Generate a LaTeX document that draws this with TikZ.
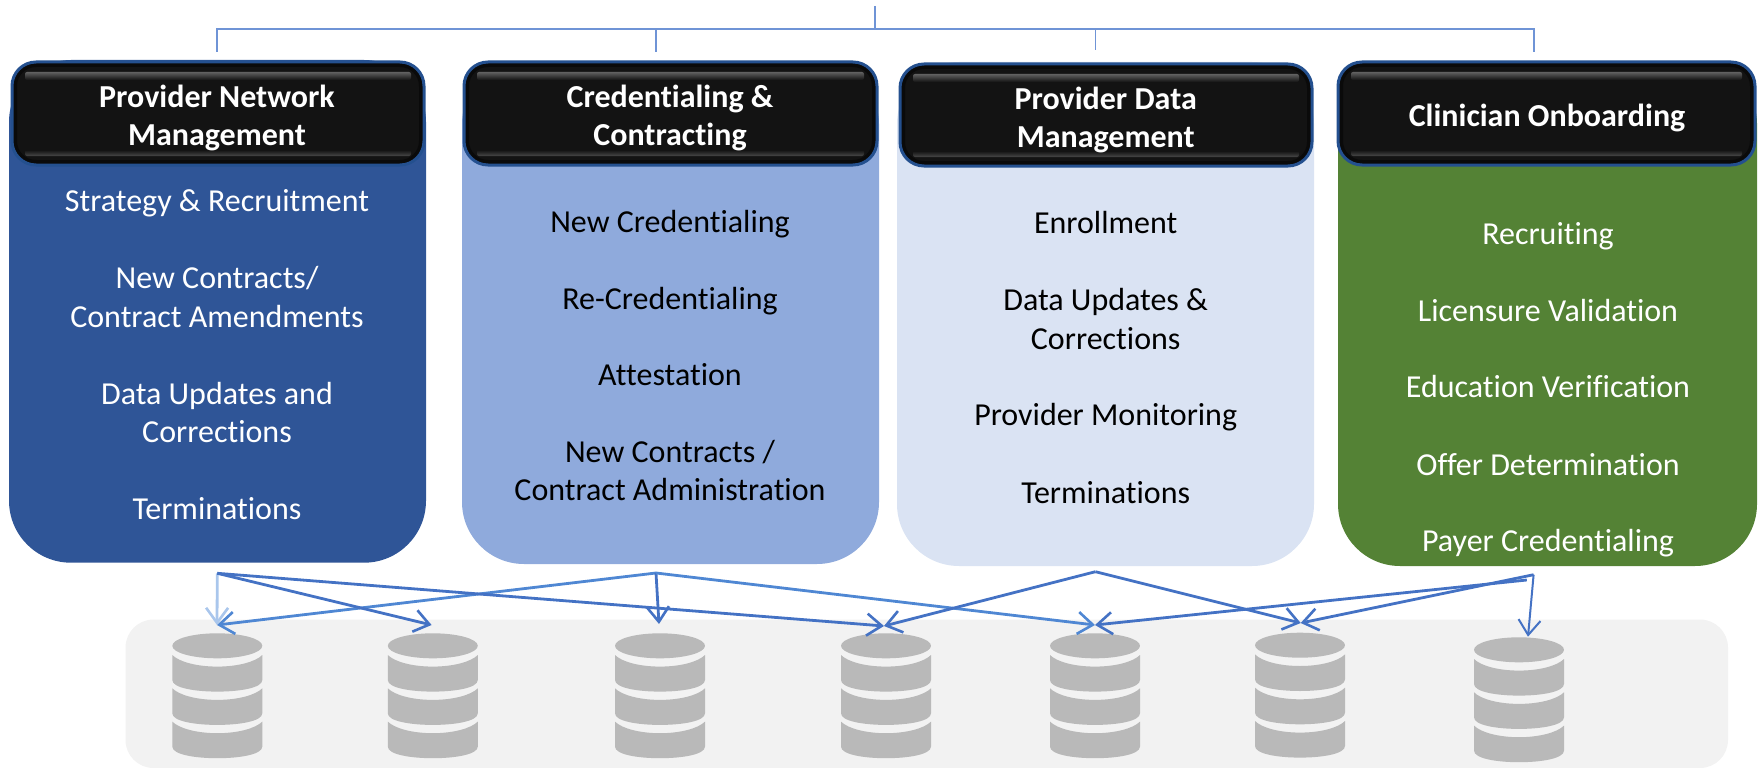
\documentclass[tikz,border=0pt]{standalone}
\usepackage{fontspec}
\setmainfont[Ligatures=CommonOff]{Carlito}
\usetikzlibrary{arrows.meta}
\definecolor{colA}{HTML}{2F5597}
\definecolor{colB}{HTML}{8FAADC}
\definecolor{colC}{HTML}{DAE3F3}
\definecolor{colD}{HTML}{548235}
\definecolor{linkblue}{HTML}{4472C4}
\definecolor{linkmid}{HTML}{4F87D3}
\definecolor{linklight}{HTML}{A9C6EC}
\definecolor{treeblue}{HTML}{6F94D6}
\definecolor{panel}{HTML}{F2F2F2}
\definecolor{cyl}{HTML}{B9B9B9}
\definecolor{rim}{HTML}{24508F}
\definecolor{hdrfill}{HTML}{131313}
\definecolor{hdredge}{HTML}{0A0A0A}
\tikzset{
  x=1pt,y=-1pt,
  item/.style={inner sep=0pt,align=center,font=\fontsize{32}{38.5}\selectfont},
  itemw/.style={item,text=white},
  itemk/.style={item,text=black},
  head/.style={inner sep=0pt,align=center,text=white,font=\fontsize{32}{38.5}\selectfont\bfseries},
  body/.style={rounded corners=62pt},
  hdr/.style={rounded corners=24pt,fill=hdredge,draw=rim,line width=3pt},
  hdrin/.style={rounded corners=20pt,fill=hdrfill,draw=hdredge,line width=2pt},
  tree/.style={draw=treeblue,line width=1.6pt},
  link/.style={draw=linkblue,line width=2.8pt,-{Straight Barb[length=15pt,width=22pt,line width=2.6pt]}},
  linkm/.style={link,draw=linkmid},
  linkl/.style={link,draw=linklight},
  linkthin/.style={draw=linkblue,line width=2pt,-{Straight Barb[length=15pt,width=22pt,line width=2pt]}},
  pics/dbcyl/.style={code={
    \fill[cyl] (0,0) ellipse [x radius=45,y radius=-12.5];
    \foreach \t in {9.2,42.5,75.8}{
      \fill[cyl] (-45,\t) -- (-45,\t+25) .. controls (-45,\t+33) and (-22,\t+36.6) .. (0,\t+36.6)
        .. controls (22,\t+36.6) and (45,\t+33) .. (45,\t+25) -- (45,\t)
        .. controls (38,\t+7) and (20,\t+11.6) .. (0,\t+11.6)
        .. controls (-20,\t+11.6) and (-38,\t+7) .. (-45,\t) -- cycle;
    }
  }}
}
\newcommand{\hdrbox}[4]{%
  \draw[hdr] (#1,#3) rectangle (#2,#4);
  \draw[hdrin] (#1+4,#3+4) rectangle (#2-4,#4-4);
  \shade[top color=black!62,bottom color=hdrfill,rounded corners=2pt] (#1+13,#3+10) rectangle (#2-13,#3+18);
  \shade[top color=hdrfill,bottom color=black!72,rounded corners=2pt] (#1+13,#4-15) rectangle (#2-13,#4-9);
}
\begin{document}
\begin{tikzpicture}
\useasboundingbox (0,0) rectangle (1762,768);
% panel
\fill[panel,rounded corners=28pt] (125.5,619.5) rectangle (1728,768);
% cylinders (top ellipse centre)
\path (217.3,645.8) pic {dbcyl};
\path (432.8,645.8) pic {dbcyl};
\path (660,645.8) pic {dbcyl};
\path (886,645.8) pic {dbcyl};
\path (1095,645.8) pic {dbcyl};
\path (1300,645.2) pic {dbcyl};
\path (1519,649.8) pic {dbcyl};
% bodies
\fill[colA,body] (9,60) rectangle (426,562.7);
\fill[colB,body] (462,62) rectangle (879,564);
\fill[colC,body] (897,62) rectangle (1314,566);
\fill[colD,body] (1338,62) rectangle (1757,566);
% headers
\hdrbox{12}{424}{62}{165}
\hdrbox{464}{877}{62}{165}
\hdrbox{900}{1312}{64}{166}
\hdrbox{1338}{1755}{62}{165}
% header text
\node[head] (h1) at (217,119) {\strut Provider Network\\\strut Management};
\node[head] (h2) at (670,119) {\strut Credentialing \&\\\strut Contracting};
\node[head] (h3) at (1105.7,121) {\strut Provider Data\\\strut Management};
\node[head] (h4) at (1547,119) {\strut Clinician Onboarding};
% items
\node[itemw] (a1) at (217,203.5) {\strut Strategy \& Recruitment};
\node[itemw] (a2) at (217,300.2) {\strut New Contracts/\\\strut Contract Amendments};
\node[itemw] (a3) at (217,415.7) {\strut Data Updates and\\\strut Corrections};
\node[itemw] (a4) at (217,511.5) {\strut Terminations};
\node[itemk] (b1) at (670,224.5) {\strut New Credentialing};
\node[itemk] (b2) at (670,301.5) {\strut Re-Credentialing};
\node[itemk] (b3) at (670,377.5) {\strut Attestation};
\node[itemk] (b4) at (670,474) {\strut New Contracts /\\\strut Contract Administration};
\node[itemk] (c1) at (1105.7,226) {\strut Enrollment};
\node[itemk] (c2) at (1105.7,322.5) {\strut Data Updates \&\\\strut Corrections};
\node[itemk] (c3) at (1105.7,418.1) {\strut Provider Monitoring};
\node[itemk] (c4) at (1105.7,495.5) {\strut Terminations};
\node[itemw] (d1) at (1548,237.2) {\strut Recruiting};
\node[itemw] (d2) at (1548,313.5) {\strut Licensure Validation};
\node[itemw] (d3) at (1548,390) {\strut Education Verification};
\node[itemw] (d4) at (1548,467.5) {\strut Offer Determination};
\node[itemw] (d5) at (1548,544) {\strut Payer Credentialing};
% tree
\coordinate (root) at (875,6);
\coordinate (rootj) at (875,29);
\coordinate (t1) at (217,52);
\coordinate (t2) at (656,52);
\coordinate (t3) at (1095.5,50);
\coordinate (t4) at (1534,52);
\draw[tree] (root) -- (rootj);
\draw[tree] (t1) |- (rootj);
\draw[tree] (t2) |- (rootj);
\draw[tree] (t3) |- (rootj);
\draw[tree] (t4) |- (rootj);
% arrows
\coordinate (sA) at (217.3,573.3);
\coordinate (sB) at (656,573);
\coordinate (sC) at (1095.4,571.7);
\coordinate (sD) at (1533.6,574.7);
\coordinate (sE) at (1526.8,580);
\coordinate (e1) at (217,625);
\coordinate (e2) at (431.6,625);
\coordinate (e3) at (659,624);
\coordinate (e4) at (884,626);
\coordinate (e5) at (1095,625);
\coordinate (e6) at (1300.7,623);
\coordinate (e7) at (1528,636.7);
\draw[linkl] (sA) -- (e1);
\draw[linkm] (sB) -- (e1);
\draw[link] (sA) -- (e2);
\draw[link] (sA) -- (e4);
\draw[link] (sB) -- (e3);
\draw[linkm] (sB) -- (e5);
\draw[link] (sC) -- (e4);
\draw[link] (sC) -- (e6);
\draw[link] (sE) -- (e5);
\draw[link] (sD) -- (e6);
\draw[linkthin] (sD) -- (e7);
\end{tikzpicture}
\end{document}
